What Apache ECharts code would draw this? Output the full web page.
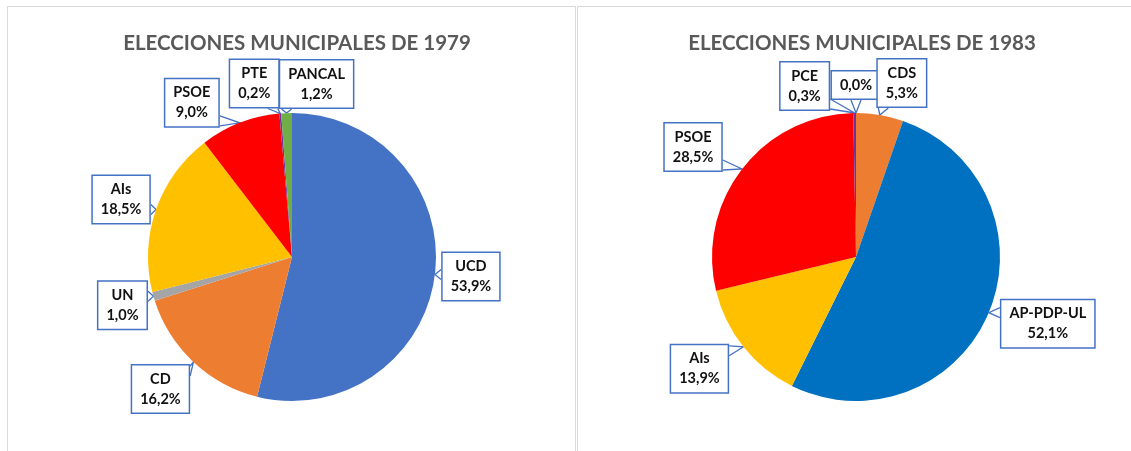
<!DOCTYPE html>
<html>
<head>
<meta charset="utf-8">
<script src="https://cdn.jsdelivr.net/npm/echarts@6/dist/echarts.min.js"></script>
<style>
  html, body { margin: 0; padding: 0; background: #fff; }
  #chart { width: 1131px; height: 451px; }
</style>
</head>
<body>
<div id="chart"></div>
<script>
// elecciones de 1979
var partidos1979 = ["UCD", "CD", "UN", "AIs", "PSOE", "PTE", "PANCAL"];
var votos1979 = [53.9, 16.2, 1.0, 18.5, 9.0, 0.2, 1.2];
// elecciones de 1983
var partidos1983 = ["", "CDS", "AP-PDP-UL", "AIs", "PSOE", "PCE"];
var votos1983 = [0.0, 5.3, 52.1, 13.9, 28.5, 0.3];

var colores1979 = ["#4472C4", "#ED7D31", "#A5A5A5", "#FFC000", "#FF0000", "#7030A0", "#70AD47"];
var colores1983 = ["#7F7F7F", "#ED7D31", "#0070C0", "#FFC000", "#FF0000", "#7030A0"];

// desplazamiento de cada etiqueta respecto al borde del sector (px)
var offs1979 = [[36, 2], [-33, 27], [-31, 9], [-35, -10], [-48, -20], [-26, -30], [30, -29]];
var offs1983 = [[0, -28], [22, -32], [59, 11], [-44, 22], [-49, -22], [-50, -27]];

var FONT = "Lato";

function fmt(p) {
  var v = p.value.toFixed(1).replace(".", ",") + "%";
  return p.name ? p.name + "\n" + v : v;
}

function clamp(v, a, b) { return Math.max(a, Math.min(b, v)); }

// coloca la etiqueta tipo "llamada" y dibuja la punta hacia el sector
function callout(offs) {
  return function (params) {
    var pts = params.labelLinePoints;
    if (!pts) return {};
    var e = pts[0];
    var o = offs[params.dataIndex];
    var cx = e[0] + o[0], cy = e[1] + o[1];
    var w = params.labelRect.width, h = params.labelRect.height;
    var dx = e[0] - cx, dy = e[1] - cy;
    var half = 5, m = 7, a, b;
    if (Math.abs(dx) / w > Math.abs(dy) / h) {
      var sx = cx + (dx > 0 ? w / 2 : -w / 2);
      var yy = clamp(e[1], cy - h / 2 + m, cy + h / 2 - m);
      a = [sx, yy - half]; b = [sx, yy + half];
    } else {
      var sy = cy + (dy > 0 ? h / 2 : -h / 2);
      var xx = clamp(e[0], cx - w / 2 + m, cx + w / 2 - m);
      a = [xx - half, sy]; b = [xx + half, sy];
    }
    return {
      x: cx,
      y: cy,
      align: "center",
      verticalAlign: "middle",
      labelLinePoints: [a, e, b]
    };
  };
}

function makeData(names, values, colors) {
  var out = [];
  for (var i = 0; i < names.length; i++) {
    out.push({ name: names[i], value: values[i], itemStyle: { color: colors[i] } });
  }
  return out;
}

var labelStyle = {
  show: true,
  position: "outside",
  formatter: fmt,
  color: "#111",
  fontFamily: FONT,
  fontWeight: "bold",
  fontSize: 14.5,
  lineHeight: 20,
  align: "center",
  backgroundColor: "#fff",
  borderColor: "#4472C4",
  borderWidth: 1.5,
  padding: [4, 8, 3, 8]
};

var lineStyle = {
  show: true,
  length: 8,
  length2: 8,
  smooth: false,
  lineStyle: { color: "#4472C4", width: 1.3 }
};

var chart = echarts.init(document.getElementById("chart"));
chart.setOption({
  backgroundColor: "#fff",
  animation: false,
  graphic: [
    { type: "rect", shape: { x: 7.5, y: 6.5, width: 568, height: 500 }, style: { fill: "none", stroke: "#D9D9D9", lineWidth: 1 } },
    { type: "rect", shape: { x: 577.5, y: 6.5, width: 600, height: 500 }, style: { fill: "none", stroke: "#D9D9D9", lineWidth: 1 } }
  ],
  title: [
    {
      text: "ELECCIONES MUNICIPALES DE 1979",
      left: 292, top: 28, textAlign: "center",
      textStyle: { fontFamily: FONT, fontWeight: "bold", fontSize: 20.5, color: "#595959" }
    },
    {
      text: "ELECCIONES MUNICIPALES DE 1983",
      left: 857, top: 28, textAlign: "center",
      textStyle: { fontFamily: FONT, fontWeight: "bold", fontSize: 20.5, color: "#595959" }
    }
  ],
  series: [
    {
      type: "pie",
      center: [292, 257],
      radius: 144,
      startAngle: 90,
      clockwise: true,
      avoidLabelOverlap: false,
      label: labelStyle,
      labelLine: lineStyle,
      labelLayout: callout(offs1979),
      emphasis: { disabled: true },
      data: makeData(partidos1979, votos1979, colores1979)
    },
    {
      type: "pie",
      center: [856, 257],
      radius: 144,
      startAngle: 90,
      clockwise: true,
      avoidLabelOverlap: false,
      label: labelStyle,
      labelLine: lineStyle,
      labelLayout: callout(offs1983),
      emphasis: { disabled: true },
      data: makeData(partidos1983, votos1983, colores1983)
    }
  ]
});
</script>
</body>
</html>
